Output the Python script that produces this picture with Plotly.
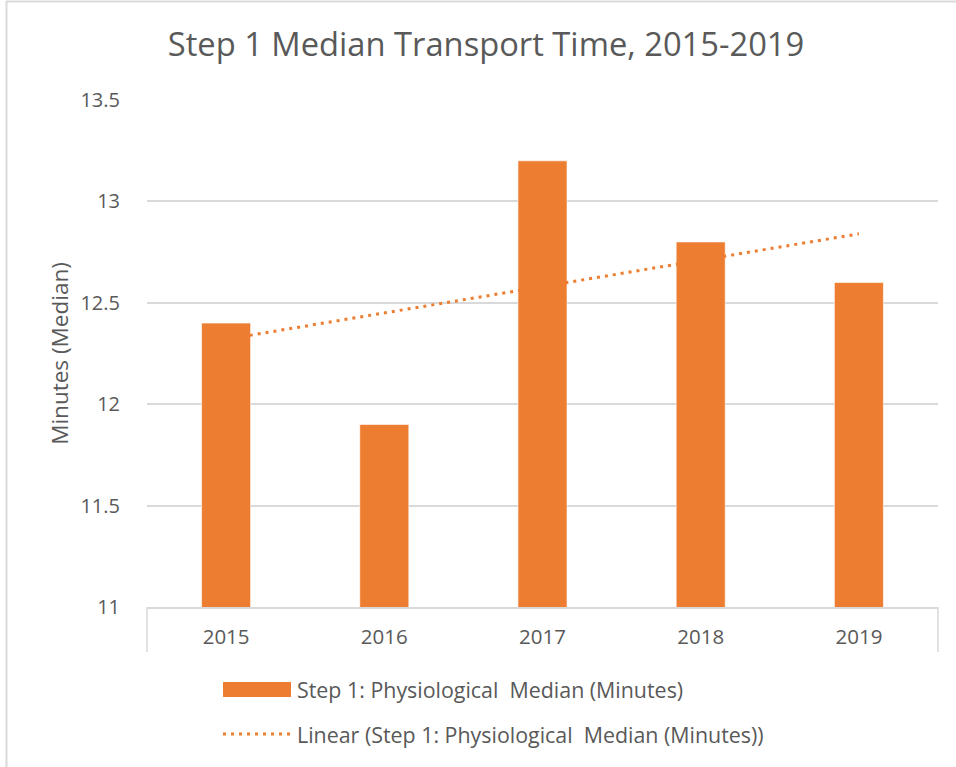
import numpy as np
import plotly.graph_objects as go

# ---- data ----
years = ["2015", "2016", "2017", "2018", "2019"]
median_minutes = [12.4, 11.9, 13.2, 12.8, 12.6]
y_ticks = [11, 11.5, 12, 12.5, 13, 13.5]

series_name = "Step 1: Physiological  Median (Minutes)"
trend_name = "Linear (Step 1: Physiological  Median (Minutes))"

# least-squares linear trendline (like Excel's "Linear" trendline)
xi = np.arange(1, len(years) + 1)
slope, intercept = np.polyfit(xi, median_minutes, 1)
trend_vals = list(slope * xi + intercept)

ORANGE = "#ED7D31"
GRID = "#D9D9D9"
TXT = "#595959"
FONT = "Open Sans"

W, H = 956, 767
L, R, T, B = 147, 938, 100, 607


def px(xp):
    return (xp - L) / (R - L)


def py(yp):
    return (B - yp) / (B - T)


fig = go.Figure()
fig.add_trace(go.Scatter(
    x=years, y=trend_vals, mode="lines", name=trend_name,
    line=dict(color=ORANGE, width=3, dash="3px,5px"), showlegend=False,
    hoverinfo="skip"))
fig.add_trace(go.Bar(
    x=years, y=median_minutes, name=series_name, width=0.31,
    marker=dict(color=ORANGE, line=dict(color="rgba(255,255,255,0.6)", width=1)),
    showlegend=False))

shapes = [
    # category axis frame ticks
    dict(type="line", xref="paper", yref="paper", x0=0, x1=0, y0=0, y1=py(652),
         line=dict(color=GRID, width=1.5)),
    dict(type="line", xref="paper", yref="paper", x0=1, x1=1, y0=0, y1=py(652),
         line=dict(color=GRID, width=1.5)),
    # outer frame (left and top)
    dict(type="line", xref="paper", yref="paper", x0=px(6.5), x1=px(6.5), y0=py(H), y1=py(1),
         line=dict(color=GRID, width=2)),
    dict(type="line", xref="paper", yref="paper", x0=px(6), x1=px(W), y0=py(1.5), y1=py(1.5),
         line=dict(color=GRID, width=2)),
    # legend swatches
    dict(type="rect", xref="paper", yref="paper", x0=px(223), x1=px(291), y0=py(697), y1=py(682),
         fillcolor=ORANGE, line=dict(width=0)),
    dict(type="line", xref="paper", yref="paper", x0=px(223), x1=px(292), y0=py(734), y1=py(734),
         line=dict(color=ORANGE, width=3, dash="3px,5px")),
]

annotations = [
    dict(text=series_name, xref="paper", yref="paper", x=px(295), y=py(689),
         xanchor="left", yanchor="middle", showarrow=False,
         font=dict(family=FONT, size=21.4, color=TXT)),
    dict(text=trend_name, xref="paper", yref="paper", x=px(295), y=py(734),
         xanchor="left", yanchor="middle", showarrow=False,
         font=dict(family=FONT, size=21.4, color=TXT)),
]

fig.update_layout(
    width=W, height=H,
    margin=dict(l=L, r=W - R, t=T, b=H - B),
    paper_bgcolor="white", plot_bgcolor="white",
    font=dict(family=FONT, color=TXT),
    title=dict(text="Step 1 Median Transport Time, 2015-2019",
               x=486 / W, xref="container", xanchor="center",
               y=1 - 45 / H, yref="container", yanchor="middle",
               font=dict(family=FONT, size=32.7, color=TXT)),
    showlegend=False,
    shapes=shapes,
    annotations=annotations,
    bargap=0.69,
)
fig.update_xaxes(
    type="category", showgrid=False, showline=True, linecolor=GRID, linewidth=1.5,
    ticks="outside", ticklen=11, tickcolor="rgba(0,0,0,0)",
    tickfont=dict(family=FONT, size=20.5, color=TXT), fixedrange=True)
fig.update_yaxes(
    range=[11, 13.5], tickvals=y_ticks, showgrid=True, gridcolor=GRID, gridwidth=1.5,
    zeroline=False, showline=False,
    ticks="outside", ticklen=22, tickcolor="rgba(0,0,0,0)",
    tickfont=dict(family=FONT, size=20, color=TXT),
    title=dict(text="Minutes (Median)", standoff=5,
               font=dict(family=FONT, size=22.5, color=TXT)),
    fixedrange=True)

fig.write_html(
    "out.html",
    config={"displayModeBar": False},
    post_script="document.body.style.margin='0';document.body.style.padding='0';",
)
